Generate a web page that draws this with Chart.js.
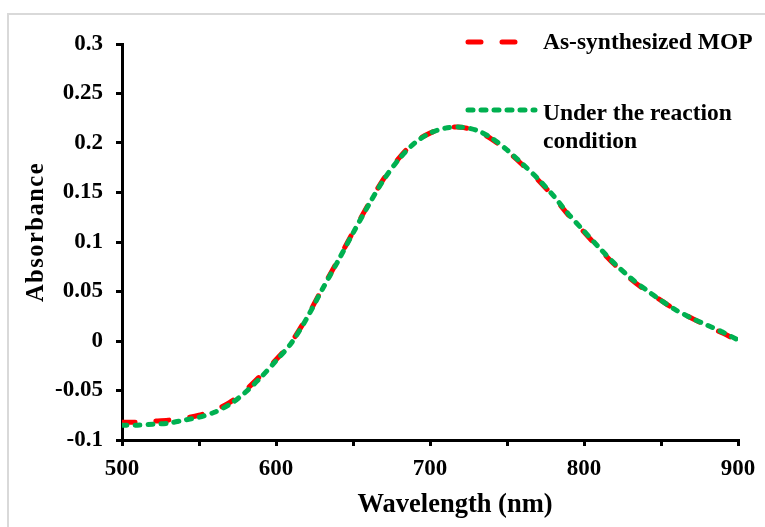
<!DOCTYPE html>
<html>
<head>
<meta charset="utf-8">
<script src="https://cdn.jsdelivr.net/npm/chart.js@4.4.1/dist/chart.umd.min.js"></script>
<style>
    html, body { margin: 0; padding: 0; background: #fff; }
    #wrap { width: 765px; height: 527px; }
</style>
</head>
<body>
<div id="wrap"><canvas id="absChart" width="765" height="527"></canvas></div>
<script>
// UV-vis spectra, absorbance vs wavelength (nm)
const wavelengths = [500, 510, 520, 530, 540, 550, 560, 570, 580, 590,
                     600, 610, 620, 630, 640, 650, 660, 670, 680, 690,
                     700, 710, 720, 730, 740, 750, 760, 770, 780, 790,
                     800, 810, 820, 830, 840, 850, 860, 870, 880, 890, 900];

const synthesized = [-0.082, -0.082, -0.081, -0.080, -0.078, -0.075, -0.070, -0.062, -0.050, -0.035,
                     -0.019, -0.001, 0.024, 0.053, 0.081, 0.110, 0.138, 0.164, 0.185, 0.201,
                     0.210, 0.215, 0.216, 0.212, 0.204, 0.192, 0.178, 0.163, 0.146, 0.127,
                     0.110, 0.093, 0.077, 0.063, 0.051, 0.041, 0.031, 0.023, 0.015, 0.008, 0.000];

const reaction = [-0.085, -0.085, -0.084, -0.083, -0.080, -0.077, -0.072, -0.064, -0.052, -0.037,
                  -0.020, -0.002, 0.023, 0.052, 0.080, 0.109, 0.137, 0.163, 0.184, 0.200,
                  0.210, 0.215, 0.216, 0.213, 0.205, 0.193, 0.179, 0.164, 0.147, 0.128,
                  0.111, 0.094, 0.078, 0.064, 0.052, 0.041, 0.031, 0.023, 0.016, 0.009, 0.001];

const seriesNames = ['As-synthesized MOP', 'Under the reaction condition'];
const xTickLabels = [500, 600, 700, 800, 900];

const serif = 'Liberation Serif, Times New Roman, serif';

const toPoints = (vals) => wavelengths.map((w, i) => ({ x: w, y: vals[i] }));

// light grey frame round the figure
const framePlugin = {
    id: 'frame',
    beforeDraw(chart) {
        const ctx = chart.ctx;
        ctx.save();
        ctx.strokeStyle = '#d9d9d9';
        ctx.lineWidth = 2;
        ctx.beginPath();
        ctx.moveTo(8, 527);
        ctx.lineTo(8, 14);
        ctx.lineTo(765, 14);
        ctx.stroke();
        ctx.restore();
    }
};

// axis titles and the legend at the top right
const labelsPlugin = {
    id: 'labels',
    afterDraw(chart) {
        const ctx = chart.ctx;
        ctx.save();
        ctx.fillStyle = '#000';

        // x title
        ctx.font = 'bold 26.5px ' + serif;
        ctx.textAlign = 'center';
        ctx.textBaseline = 'alphabetic';
        ctx.fillText('Wavelength (nm)', 455, 512);

        // y title
        ctx.save();
        ctx.translate(43, 232);
        ctx.rotate(-Math.PI / 2);
        ctx.font = 'bold 24.5px ' + serif;
        ctx.letterSpacing = '1.5px';
        ctx.fillText('Absorbance', 0, 0);
        ctx.restore();

        // legend samples
        const ds = chart.data.datasets;
        const sample = (d, x0, x1, y) => {
            ctx.save();
            ctx.strokeStyle = d.borderColor;
            ctx.lineWidth = d.borderWidth;
            ctx.lineCap = 'round';
            ctx.setLineDash(d.borderDash);
            ctx.beginPath();
            ctx.moveTo(x0, y);
            ctx.lineTo(x1, y);
            ctx.stroke();
            ctx.restore();
        };
        sample(ds[1], 468, 516, 42);
        sample(ds[0], 468, 535, 110);

        ctx.font = 'bold 23.5px ' + serif;
        ctx.textAlign = 'left';
        ctx.fillText(seriesNames[0], 543, 49);
        ctx.fillText('Under the reaction', 543, 120);
        ctx.fillText('condition', 543, 148);
        ctx.restore();
    }
};

const tickFont = { family: serif, size: 23, weight: 'bold' };
const axisGrid = { drawOnChartArea: false, drawTicks: true, tickLength: 6, color: '#000', lineWidth: 3 };

new Chart(document.getElementById('absChart').getContext('2d'), {
    type: 'line',
    data: {
        datasets: [
            {
                label: seriesNames[1],
                data: toPoints(reaction),
                borderColor: '#00b050',
                borderWidth: 5,
                borderDash: [5, 8],
                borderCapStyle: 'round',
                pointRadius: 0,
                tension: 0.3,
                fill: false,
                order: 0
            },
            {
                label: seriesNames[0],
                data: toPoints(synthesized),
                borderColor: '#ff0000',
                borderWidth: 5,
                borderDash: [13, 21],
                borderCapStyle: 'round',
                pointRadius: 0,
                tension: 0.3,
                fill: false,
                order: 1
            }
        ]
    },
    options: {
        responsive: false,
        animation: false,
        devicePixelRatio: 1,
        layout: { padding: { top: 44, right: 27, left: 0, bottom: 0 } },
        scales: {
            x: {
                type: 'linear',
                min: 500,
                max: 900,
                grid: axisGrid,
                border: { color: '#000', width: 3 },
                ticks: {
                    stepSize: 50,
                    autoSkip: false,
                    maxRotation: 0,
                    padding: 9,
                    color: '#000',
                    font: tickFont,
                    callback: v => xTickLabels.includes(v) ? String(v) : ''
                },
                afterFit: s => { s.height = 87; }
            },
            y: {
                min: -0.1,
                max: 0.3,
                grid: axisGrid,
                border: { color: '#000', width: 3 },
                ticks: {
                    stepSize: 0.05,
                    padding: 13,
                    color: '#000',
                    font: tickFont,
                    callback: v => String(+v.toFixed(2))
                },
                afterFit: s => { s.width = 122; }
            }
        },
        plugins: {
            legend: { display: false },
            tooltip: { enabled: false }
        }
    },
    plugins: [framePlugin, labelsPlugin]
});
</script>
</body>
</html>
